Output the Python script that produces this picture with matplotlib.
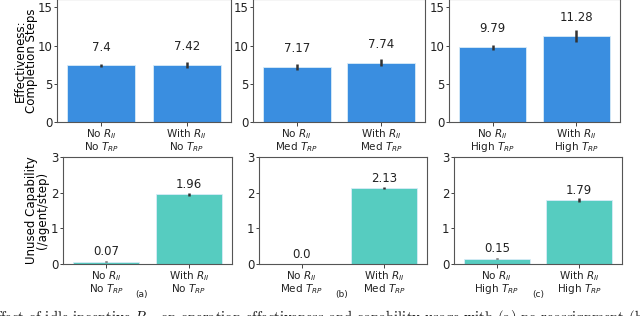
import numpy as np
import matplotlib
matplotlib.use('Agg')
import matplotlib.pyplot as plt

# ------------------------------------------------------------------------------
# data
tick_labels = [['No $R_{II}$\nNo $T_{RP}$', 'With $R_{II}$\nNo $T_{RP}$'],
               ['No $R_{II}$\nMed $T_{RP}$', 'With $R_{II}$\nMed $T_{RP}$'],
               ['No $R_{II}$\nHigh $T_{RP}$', 'With $R_{II}$\nHigh $T_{RP}$']]
panel_tags = ['(a)', '(b)', '(c)']

steps = [[7.40, 7.42], [7.17, 7.74], [9.79, 11.28]]
steps_err = [[0.25, 0.40], [0.40, 0.45], [0.35, 0.80]]

unused = [[0.07, 1.96], [0.00, 2.13], [0.15, 1.79]]
unused_err = [[0.02, 0.04], [0.00, 0.02], [0.02, 0.06]]

caption = ('ffect of idle incentive $R_{II}$ on operation effectiveness '
           'and capability usage with (a) no reassignment (b')

W, H = 640., 316.
top_boxes = [(57, 231), (253, 425), (449, 620)]
bot_boxes = [(63, 232), (259, 427), (454, 622)]
tag_x = [142, 342, 538]


# ------------------------------------------------------------------------------
def px_axes(fig, x0, x1, y0, y1):
    # axes from pixel box, y measured from the top
    return fig.add_axes([x0 / W, 1 - y1 / H, (x1 - x0) / W, (y1 - y0) / H])


def draw_row(ax, vals, errs, labels, color, ymax, yticks, offset):
    pos = np.arange(len(vals))
    ax.bar(pos, vals, width=0.8, color=color, edgecolor='#d8ecf8',
           linewidth=0.6, zorder=2)
    ax.errorbar(pos, vals, yerr=errs, fmt='none', ecolor='#333333',
                elinewidth=1.8, capsize=0, zorder=3)
    for p, v in zip(pos, vals):
        ax.text(p, v + offset, str(v), ha='center', va='center', fontsize=8.5,
                color='#222222')
    ax.set_xlim(-0.52, 1.52)
    ax.set_ylim(0, ymax)
    ax.set_yticks(yticks)
    ax.set_xticks(pos)
    ax.set_xticklabels(labels, fontsize=7.5, linespacing=0.85)
    ax.tick_params(axis='y', labelsize=8.5, length=2.5, width=0.6, pad=1,
                   colors='#222222')
    ax.tick_params(axis='x', length=3, width=0.6, pad=1, colors='#222222')
    for s in ax.spines.values():
        s.set_color('#555555')
        s.set_linewidth(0.8)


# ------------------------------------------------------------------------------
def make_figure():
    fig = plt.figure(figsize=(6.4, 3.16), dpi=100)

    for i in range(3):
        ax = px_axes(fig, top_boxes[i][0], top_boxes[i][1], -1, 122)
        draw_row(ax, steps[i], steps_err[i], tick_labels[i], '#3a8ee0',
                 16.1, [0, 5, 10, 15], 2.4)
        if i == 0:
            ax.set_ylabel('Effectiveness:\nCompletion Steps', fontsize=8.5,
                          linespacing=0.85)
            ax.yaxis.set_label_coords(-19 / 174., 0.5)

        ax = px_axes(fig, bot_boxes[i][0], bot_boxes[i][1], 157, 264)
        draw_row(ax, unused[i], unused_err[i], tick_labels[i], '#56ccc0',
                 3, [0, 1, 2, 3], 0.28)
        if i == 0:
            ax.set_ylabel('Unused Capability\n(/agent/step)', fontsize=8.5,
                          linespacing=0.85)
            ax.yaxis.set_label_coords(-14 / 169., 0.5)

        fig.text(tag_x[i] / W, 1 - 295 / H, panel_tags[i], ha='center',
                 va='center', fontsize=6.5, color='#222222')

    # caption of the source document, cut off at the bottom edge
    plt.rcParams['mathtext.fontset'] = 'cm'
    fig.text(-4 / W, 1 - 308 / H, caption, ha='left', va='top',
             fontsize=10.5, family='cmr10', color='#111111')

    fig.savefig('out.png', dpi=100)


# ==============================================================================
if __name__ == '__main__':
    make_figure()
